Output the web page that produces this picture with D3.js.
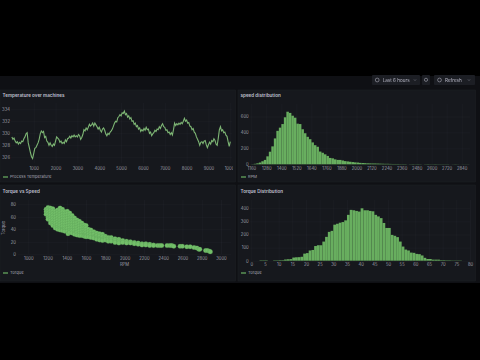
<!DOCTYPE html>
<html lang="en">
  <head>
    <meta charset="utf-8" />
    <title>machine dashboard</title>
    <script src="https://d3js.org/d3.v7.min.js"></script>
    <style>
      html, body { margin: 0; padding: 0; background: #000; overflow: hidden; }
      svg { display: block; filter: blur(0.35px); }
      text { font-family: Inter, "Noto Sans", sans-serif; fill: #ccccdc; }
      .tick-label { font-size: 4.2px; fill-opacity: 0.75; }
      .title { font-size: 4.6px; font-weight: 600; fill-opacity: 0.95; }
      .legend { font-size: 4.1px; fill-opacity: 0.8; }
      .btn { font-size: 4.6px; fill-opacity: 0.85; }
    </style>
  </head>
  <body>
    <div id="graph"></div>

    <script>
      /***************
       * data
       ***************/

      // process temperature, one reading every 50 machines
      const tempIndex = d3.range(0, 10001, 50);
      const tempValues = [
        329.4, 329.0, 329.2, 328.7, 328.4, 328.6, 328.2, 328.5, 328.3, 328.7, 328.6, 329.1, 329.4, 329.9, 330.1, 328.4, 327.6, 326.8, 326.1, 325.8,
        326.6, 327.5, 327.6, 328.0, 328.4, 329.0, 329.9, 330.4, 330.1, 330.3, 329.3, 329.5, 328.7, 328.5, 328.0, 328.4, 328.0, 327.8, 328.2, 328.0,
        328.7, 329.4, 329.2, 329.0, 328.5, 328.7, 328.3, 328.5, 328.3, 328.9, 328.6, 329.1, 329.2, 329.5, 329.2, 329.6, 329.4, 329.7, 329.4, 329.6,
        329.4, 329.8, 329.6, 329.0, 329.3, 329.8, 330.6, 330.4, 330.9, 330.6, 331.0, 331.5, 331.2, 331.4, 331.7, 331.2, 331.7, 331.4, 331.1, 330.7,
        331.0, 330.5, 330.2, 330.7, 330.9, 330.5, 329.9, 329.6, 330.0, 329.8, 330.2, 330.4, 330.7, 331.2, 331.7, 332.0, 331.9, 332.6, 332.8, 333.1,
        332.9, 333.4, 333.3, 333.7, 333.1, 333.3, 332.7, 332.9, 332.4, 332.6, 332.0, 332.1, 331.5, 331.7, 331.1, 331.3, 330.7, 330.9, 330.3, 330.6,
        330.4, 330.8, 330.5, 331.0, 330.6, 330.7, 330.0, 330.2, 329.6, 329.9, 330.1, 330.5, 330.3, 330.7, 330.6, 331.1, 330.8, 331.3, 331.6, 331.1,
        331.0, 330.5, 330.6, 330.1, 330.2, 329.8, 330.1, 329.7, 330.6, 331.7, 331.3, 331.6, 331.4, 331.7, 331.5, 331.8, 331.6, 332.0, 332.5, 332.0,
        332.2, 331.7, 331.8, 331.2, 331.1, 330.6, 330.8, 330.2, 330.0, 329.4, 329.0, 328.6, 328.0, 328.5, 328.6, 328.3, 328.7, 328.8, 328.1, 327.6,
        328.1, 328.5, 328.2, 328.8, 328.6, 329.1, 328.8, 328.2, 328.0, 329.2, 330.6, 331.1, 330.4, 330.6, 330.1, 330.2, 329.7, 329.5, 328.6, 327.8,
        328.6
      ];
      const tempXTicks = [1000, 2000, 3000, 4000, 5000, 6000, 7000, 8000, 9000, 10000];
      const tempYTicks = [326, 328, 330, 332, 334];

      // rotational speed histogram, 20 rpm buckets from 1160
      const rpmBucket = 20;
      const rpmStart = 1160;
      const rpmCounts = [
        2, 6, 12, 22, 38, 55, 100, 158, 225, 325, 420, 460, 505, 590, 660, 645, 610, 585, 510, 505,
        440, 390, 345, 315, 275, 240, 220, 160, 145, 125, 105, 80, 75, 62, 55, 55, 48, 40, 36, 32,
        28, 24, 22, 18, 16, 14, 12, 11, 10, 10, 9, 8, 7, 6, 6, 5, 4, 4, 4, 3,
        3, 3, 0, 2, 3, 2, 3, 2, 0, 2, 3, 2, 2, 3, 2, 2, 2, 2, 2, 0,
        1, 2, 1, 0, 1, 1, 1
      ];
      const rpmXTicks = [1160, 1280, 1400, 1520, 1640, 1760, 1880, 2000, 2120, 2240, 2360, 2480, 2600, 2720, 2840];
      const rpmYTicks = [0, 200, 400, 600];

      // torque vs speed, torque readings grouped by rpm
      const scatterRpm = [
        1185, 1205, 1230, 1255, 1280, 1305, 1330, 1355, 1380, 1405, 1412, 1430, 1455, 1480, 1505, 1530, 1555, 1580, 1600, 1625,
        1650, 1680, 1710, 1740, 1770, 1800, 1830, 1860, 1900, 1940, 1980, 2020, 2060, 2100, 2140, 2180, 2220, 2260, 2300, 2340,
        2365, 2385, 2440, 2470, 2490, 2510, 2575, 2600, 2645, 2680, 2720, 2750, 2770, 2780, 2840, 2860, 2880, 2890
      ];
      const scatterTorque = [
        [72, 68, 64], [75, 71, 67, 63, 59, 56], [74, 70, 66, 62, 58, 54, 50], [73, 69, 65, 61, 57, 53, 49, 46],
        [69, 65, 61, 57, 53, 49, 45, 42], [71, 67, 63, 59, 55, 51, 47, 43, 40], [74, 70, 66, 62, 58, 54, 50, 46, 42, 39],
        [72, 68, 64, 60, 56, 52, 48, 44, 40, 38], [68, 64, 60, 56, 52, 48, 44, 40, 37], [69, 65, 61, 57, 53, 49, 45, 41, 37],
        [33], [66, 62, 58, 54, 50, 46, 42, 38, 35], [62, 58, 54, 50, 46, 42, 38, 34], [58, 54, 50, 46, 42, 38, 34, 32],
        [55, 51, 47, 43, 39, 35, 31], [53, 49, 45, 41, 37, 33, 30], [50, 46, 42, 38, 34, 30], [47, 43, 39, 35, 31, 29],
        [46, 42, 38, 34, 30, 28], [40, 36, 32, 28], [39, 35, 31, 27], [36, 32, 28, 26], [34, 30, 26, 24], [33, 29, 25, 23],
        [32, 28, 24, 22], [29, 26, 23], [27, 24, 21], [27, 24, 21], [25, 22, 19], [24, 21, 18], [22, 19], [21, 18], [20, 18],
        [19, 17], [18, 16], [17, 15], [17, 15], [16, 14], [15, 14], [14], [14], [14], [14], [14], [14], [13], [13], [13],
        [12], [12], [11], [10], [8], [8], [6], [6], [5], [4]
      ];
      const scatterXTicks = [1000, 1200, 1400, 1600, 1800, 2000, 2200, 2400, 2600, 2800, 3000];
      const scatterYTicks = [0, 20, 40, 60, 80];

      // torque histogram, 1 Nm buckets from 0
      const torqueCounts = [
        0, 0, 0, 3, 3, 3, 0, 0, 3, 3, 4, 4, 9, 11, 12, 24, 26, 27, 30, 54,
        58, 78, 82, 112, 118, 118, 146, 182, 220, 228, 275, 282, 290, 295, 308, 350, 388, 385, 380, 375,
        400, 385, 385, 380, 377, 350, 338, 325, 288, 250, 250, 197, 190, 180, 146, 108, 85, 78, 62, 60,
        52, 50, 40, 22, 13, 13, 8, 8, 8, 4, 4, 3, 3, 2, 2, 2, 2
      ];
      const torqueXTicks = d3.range(0, 81, 5);
      const torqueYTicks = [0, 100, 200, 300, 400];

      /***************************
       * create svg
       **************************/

      const width = 480;
      const height = 360;
      const green = "#73BF69";

      const svg = d3
        .select("div#graph")
        .append("svg")
        .attr("width", width)
        .attr("height", height);

      svg.append("rect").attr("x", 0).attr("y", 76).attr("width", width).attr("height", 207).attr("fill", "#0f1014");

      // the last temperature tick runs off the edge of its plot
      svg.append("clipPath").attr("id", "edge")
        .append("rect").attr("x", 0).attr("y", -70).attr("width", 233).attr("height", 90);

      // the 4 panels
      const panels = [
        { x: 0, y: 90, w: 235.5, h: 92, titleY: 97, title: "Temperature over machines", legend: "Process Temperature" },
        { x: 238, y: 90, w: 237.5, h: 92, titleY: 97, title: "speed distribution", legend: "RPM" },
        { x: 0, y: 185, w: 235.5, h: 96, titleY: 193.3, title: "Torque vs Speed", legend: "Torque" },
        { x: 238, y: 185, w: 237.5, h: 96, titleY: 193.3, title: "Torque Distribution", legend: "Torque" }
      ];

      panels.forEach(function (p) {
        svg.append("rect")
          .attr("x", p.x).attr("y", p.y).attr("width", p.w).attr("height", p.h)
          .attr("fill", "#16181d").attr("stroke", "#1f2125").attr("stroke-width", 0.5);
        svg.append("text").attr("class", "title").attr("x", p.x + 2.5).attr("y", p.titleY).text(p.title);
        const ly = p.y + p.h - 5 + (p.h > 92 ? -3 : 0);
        svg.append("line")
          .attr("x1", p.x + 3).attr("x2", p.x + 8).attr("y1", ly).attr("y2", ly)
          .attr("stroke", green).attr("stroke-width", 1.1);
        svg.append("text").attr("class", "legend").attr("x", p.x + 10).attr("y", ly + 1.4).text(p.legend);
      });

      /********************
       * scales
       ***********************/

      const tempX = d3.scaleLinear().domain([1000, 10000]).range([33.7, 230.3]);
      const tempY = d3.scaleLinear().domain([326, 334]).range([157.3, 109.3]);

      const rpmX = d3.scaleLinear().domain([1160, 2840]).range([251.3, 461.7]);
      const rpmY = d3.scaleLinear().domain([0, 600]).range([164.3, 116.5]);

      const scatterX = d3.scaleLinear().domain([1000, 3000]).range([28.3, 221]);
      const scatterY = d3.scaleLinear().domain([0, 80]).range([254.3, 204.3]);

      const torqueX = d3.scaleLinear().domain([0, 80]).range([251.3, 470]);
      const torqueY = d3.scaleLinear().domain([0, 400]).range([260.7, 208.3]);

      /********************
       * axes and grid
       ***********************/

      function drawAxes(x, y, xTicks, yTicks, box) {
        const gridColor = "rgba(204,204,220,0.06)";

        const gx = svg.append("g")
          .attr("transform", "translate(0," + box.bottom + ")")
          .call(d3.axisBottom(x).tickValues(xTicks).tickFormat(d3.format("d")).tickSize(-(box.bottom - box.top)).tickPadding(box.xPad));
        gx.select(".domain").remove();
        gx.selectAll("line").attr("stroke", gridColor).attr("stroke-width", 0.6);
        gx.selectAll("text").attr("class", "tick-label");

        const gy = svg.append("g")
          .attr("transform", "translate(" + box.left + ",0)")
          .call(d3.axisLeft(y).tickValues(yTicks).tickFormat(d3.format("d")).tickSize(-(box.right - box.left)).tickPadding(box.yPad));
        gy.select(".domain").remove();
        gy.selectAll("line").attr("stroke", gridColor).attr("stroke-width", 0.6);
        gy.selectAll("text").attr("class", "tick-label");
        return gx;
      }

      const tempAxis = drawAxes(tempX, tempY, tempXTicks, tempYTicks, { left: 11, right: 232, top: 103, bottom: 163, xPad: 4.2, yPad: 1 });
      tempAxis.attr("clip-path", "url(#edge)");
      drawAxes(rpmX, rpmY, rpmXTicks, rpmYTicks, { left: 250, right: 470, top: 104, bottom: 164.3, xPad: 2.5, yPad: 1.3 });
      drawAxes(scatterX, scatterY, scatterXTicks, scatterYTicks, { left: 18, right: 231, top: 200, bottom: 254.3, xPad: 2.9, yPad: 2 });
      drawAxes(torqueX, torqueY, torqueXTicks, torqueYTicks, { left: 250, right: 470, top: 200, bottom: 260.7, xPad: 2.8, yPad: 1.3 });

      svg.append("text").attr("class", "tick-label")
        .attr("text-anchor", "middle").attr("x", 124.5).attr("y", 266.3).text("RPM");
      svg.append("text").attr("class", "tick-label")
        .attr("text-anchor", "middle")
        .attr("transform", "translate(5,228) rotate(-90)").text("Torque");

      /**************
       * marks
       **************/

      const line = d3.line()
        .x(function (d, i) { return tempX(tempIndex[i]); })
        .y(function (d) { return tempY(d); });

      svg.append("path")
        .datum(tempValues)
        .attr("fill", "none")
        .attr("stroke", "#7db574")
        .attr("stroke-width", 1.1)
        .attr("d", line);

      function drawBars(counts, start, step, x, y) {
        svg.append("g")
          .selectAll("rect")
          .data(counts)
          .enter()
          .append("rect")
          .attr("x", function (d, i) { return x(start + i * step); })
          .attr("width", function (d, i) { return x(start + (i + 1) * step) - x(start + i * step); })
          .attr("y", function (d) { return y(d); })
          .attr("height", function (d) { return y(0) - y(d); })
          .attr("fill", "#68ae5f");
      }

      drawBars(rpmCounts, rpmStart, rpmBucket, rpmX, rpmY);
      drawBars(torqueCounts, 0, 1, torqueX, torqueY);

      const scatterPoints = scatterRpm.flatMap(function (rpm, i) {
        return scatterTorque[i].map(function (t) { return [rpm, t]; });
      });

      svg.append("g")
        .selectAll("circle")
        .data(scatterPoints)
        .enter()
        .append("circle")
        .attr("cx", function (d) { return scatterX(d[0]); })
        .attr("cy", function (d) { return scatterY(d[1]); })
        .attr("r", 2.3)
        .attr("fill", green)
        .attr("stroke", "#4f8a4a")
        .attr("stroke-width", 0.2);

      /**************
       * top bar
       **************/

      const buttons = [
        { x: 372, w: 48, label: "Last 6 hours", lx: 382.7, caret: 415 },
        { x: 422, w: 8, label: "", lx: 0, caret: 0 },
        { x: 434, w: 41, label: "Refresh", lx: 445, caret: 469 }
      ];

      buttons.forEach(function (b) {
        svg.append("rect")
          .attr("x", b.x).attr("y", 75).attr("width", b.w).attr("height", 10).attr("rx", 1)
          .attr("fill", "#1c1e24");
        if (b.label) {
          svg.append("text").attr("class", "btn").attr("x", b.lx).attr("y", 81.6).text(b.label);
          svg.append("circle")
            .attr("cx", b.lx - 5.5).attr("cy", 80).attr("r", 1.9)
            .attr("fill", "none").attr("stroke", "#ccccdc").attr("stroke-opacity", 0.8).attr("stroke-width", 0.6);
          svg.append("path")
            .attr("d", d3.line()([[b.caret - 1, 79.5], [b.caret, 80.5], [b.caret + 1, 79.5]]))
            .attr("fill", "none").attr("stroke", "#ccccdc").attr("stroke-opacity", 0.7).attr("stroke-width", 0.5);
        }
      });
      svg.append("circle")
        .attr("cx", 426).attr("cy", 79.8).attr("r", 1.6)
        .attr("fill", "none").attr("stroke", "#ccccdc").attr("stroke-opacity", 0.8).attr("stroke-width", 0.6);
    </script>
  </body>
</html>
